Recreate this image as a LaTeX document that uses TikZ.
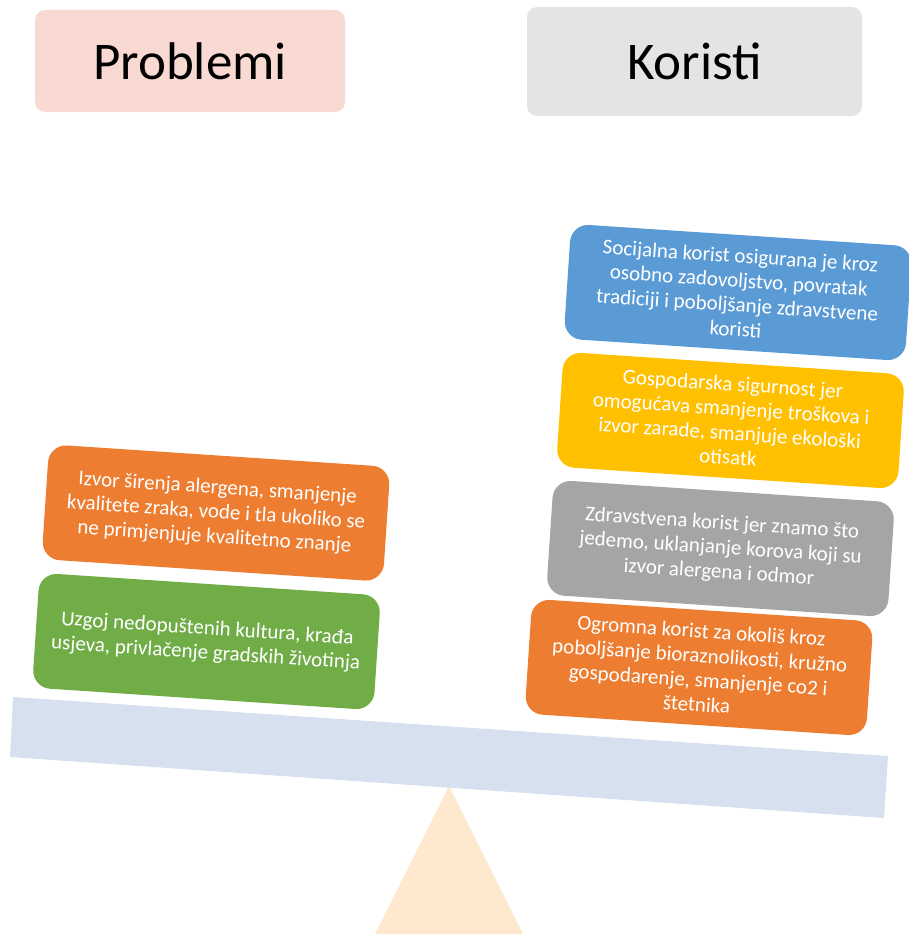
\documentclass[tikz,border=0pt]{standalone}
\usepackage{fontspec}
\setmainfont{Carlito}
\definecolor{cblue}{HTML}{5B9BD5}
\definecolor{cyellow}{HTML}{FFC000}
\definecolor{cgray}{HTML}{A5A5A5}
\definecolor{corange}{HTML}{ED7D31}
\definecolor{cgreen}{HTML}{70AD47}
\definecolor{cbeam}{HTML}{D6E0EF}
\definecolor{ctri}{HTML}{FEE8CE}
\definecolor{cprob}{HTML}{F9DAD2}
\definecolor{ckor}{HTML}{E4E4E4}
\begin{document}
\begin{tikzpicture}[x=1pt,y=-1pt,
  card/.style={rotate=-3.8, minimum width=342pt, minimum height=115pt,
    rounded corners=18pt, inner sep=0pt, text=white, align=center,
    font=\fontsize{21}{24.5}\selectfont},
  head/.style={rounded corners=10pt, inner sep=0pt, text=black,
    font=\fontsize{53}{60}\selectfont}]
\useasboundingbox (0,0) rectangle (908,934);
% fulcrum and beam
\fill[ctri] (449,786) -- (523,934) -- (375,934) -- cycle;
\fill[cbeam] (13,697) -- (888,756) -- (884,818) -- (10,757) -- cycle;
% headers
\node[head, fill=cprob, minimum width=310pt, minimum height=102pt] (prob) at (190,61) {Problemi};
\node[head, fill=ckor, minimum width=335pt, minimum height=109pt] (kor) at (694.5,61.5) {Koristi};
% right cards
\node[card, fill=cblue] (soc) at (738,292.5) {Socijalna korist osigurana je kroz\\osobno zadovoljstvo, povratak\\tradiciji i poboljšanje zdravstvene\\koristi};
\node[card, fill=cyellow] (gosp) at (730.5,420.5) {Gospodarska sigurnost jer\\omogućava smanjenje troškova i\\izvor zarade, smanjuje ekološki\\otisatk};
\node[card, fill=cgray] (zdr) at (720.5,548.5) {Zdravstvena korist jer znamo što\\jedemo, uklanjanje korova koji su\\izvor alergena i odmor};
\node[card, fill=corange] (ogr) at (699,667.5) {Ogromna korist za okoliš kroz\\poboljšanje bioraznolikosti, kružno\\gospodarenje, smanjenje co2 i\\štetnika};
% left cards
\node[card, fill=corange] (izv) at (216,513) {Izvor širenja alergena, smanjenje\\kvalitete zraka, vode i tla ukoliko se\\ne primjenjuje kvalitetno znanje};
\node[card, fill=cgreen] (uzg) at (206.5,641.5) {Uzgoj nedopuštenih kultura, krađa\\usjeva, privlačenje gradskih životinja};
\end{tikzpicture}
\end{document}
